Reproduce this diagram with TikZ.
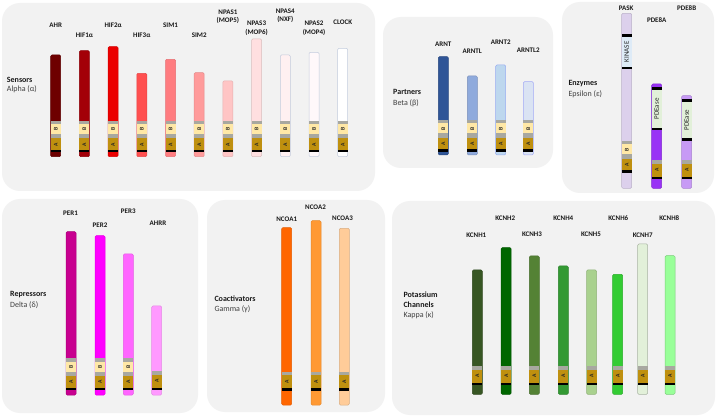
\documentclass[tikz,border=0pt]{standalone}
\usepackage{fontspec}
\setmainfont{Carlito}
\definecolor{panelbg}{HTML}{F2F2F2}
\definecolor{gband}{HTML}{A8A8A0}
\definecolor{bdom}{HTML}{FFE8A6}
\definecolor{adom}{HTML}{BF900F}
\definecolor{lbltext}{HTML}{1A1A1A}
\definecolor{subtext}{HTML}{404040}
\definecolor{lightedge}{HTML}{C3CCDD}
% sensors
\definecolor{cAHR}{HTML}{6E0000}
\definecolor{cHIFa}{HTML}{A30008}
\definecolor{cHIFb}{HTML}{EB0000}
\definecolor{cHIFc}{HTML}{FF5050}
\definecolor{cSIMa}{HTML}{FF7C80}
\definecolor{cSIMb}{HTML}{FF9B9B}
\definecolor{cNPASa}{HTML}{FFC5C5}
\definecolor{cNPASc}{HTML}{FFDFE0}
\definecolor{cNPASd}{HTML}{FFF0F1}
\definecolor{cNPASb}{HTML}{FFF8FA}
\definecolor{cCLOCK}{HTML}{FFFFFF}
% partners
\definecolor{cARNT}{HTML}{2F5597}
\definecolor{cARNTL}{HTML}{8FAADC}
\definecolor{cARNTb}{HTML}{BDD7EE}
\definecolor{cARNTLb}{HTML}{DAE3F3}
% enzymes
\definecolor{cPASK}{HTML}{DCD0EC}
\definecolor{cPDEa}{HTML}{9933F5}
\definecolor{cPDEb}{HTML}{C79AF5}
\definecolor{kinbox}{HTML}{DEEBF7}
\definecolor{pdebox}{HTML}{E2F0D9}
% repressors
\definecolor{cPERa}{HTML}{C80090}
\definecolor{cPERb}{HTML}{FF00FF}
\definecolor{cPERc}{HTML}{FF66FF}
\definecolor{cAHRR}{HTML}{FF99FF}
% coactivators
\definecolor{cNCOAa}{HTML}{FF6600}
\definecolor{cNCOAb}{HTML}{FF9933}
\definecolor{cNCOAc}{HTML}{FFCC99}
% potassium
\definecolor{cKa}{HTML}{375623}
\definecolor{cKb}{HTML}{006600}
\definecolor{cKc}{HTML}{548235}
\definecolor{cKd}{HTML}{339933}
\definecolor{cKe}{HTML}{A9D18E}
\definecolor{cKf}{HTML}{33CC33}
\definecolor{cKg}{HTML}{E2F0D9}
\definecolor{cKh}{HTML}{99FF99}

\newcount\dn
\newcommand\seg[4]{\fill[#4] (#1-5,#2) rectangle (#1+5,#3);}
\newcommand\dom[5]{\seg{#1}{#2}{#3}{#4}\global\advance\dn by 1
  \node[domtxt] (dom\the\dn) at (#1,{(#2+#3)/2}) {#5};}
\newcommand\bigdom[5]{\seg{#1}{#2}{#3}{#4}\global\advance\dn by 1
  \node[bigdomtxt] (dom\the\dn) at (#1,{(#2+#3)/2}) {#5};}
\newcommand\bbody[5]{\filldraw[fill=#4,draw=#5,line width=.5pt,rounded corners=1.2pt] (#1-5,#2) rectangle (#1+5,#3);}
\newcommand\abstack[2]{%
  \seg{#1}{#2}{#2+3.5}{gband}
  \dom{#1}{#2+3.5}{#2+13.5}{bdom}{B}
  \seg{#1}{#2+13.5}{#2+17.8}{gband}
  \dom{#1}{#2+17.8}{#2+29.5}{adom}{A}
  \seg{#1}{#2+29.5}{#2+31.7}{black}}
\newcommand\astack[2]{%
  \seg{#1}{#2}{#2+3.7}{gband}
  \dom{#1}{#2+3.7}{#2+16.7}{adom}{A}
  \seg{#1}{#2+16.7}{#2+19.1}{black}}

\begin{document}
\begin{tikzpicture}[x=1pt,y=-1pt,
  panel/.style={fill=panelbg, rounded corners=18pt},
  lbl/.style={font=\fontsize{7}{8}\selectfont\bfseries, text=lbltext, inner sep=0},
  ttl/.style={font=\fontsize{8}{10}\selectfont\bfseries, text=lbltext, inner sep=0, anchor=west},
  sub/.style={font=\fontsize{8}{10}\selectfont, text=subtext, inner sep=0, anchor=west},
  domtxt/.style={font=\fontsize{5.6}{5.6}\selectfont\bfseries, rotate=90, inner sep=0, text=black!85},
  bigdomtxt/.style={font=\fontsize{7}{7}\selectfont, rotate=90, inner sep=0, text=black!85}]
\useasboundingbox (0,0) rectangle (716,417);
\fill[white] (0,0) rectangle (716,417);

% ---------- panels ----------
\fill[panel] (2,3) rectangle (375,191);
\fill[panel] (383,17) rectangle (553,168);
\fill[panel] (562,2) rectangle (714,193);
\fill[panel] (2,199) rectangle (198,413);
\fill[panel] (207,200) rectangle (385,412);
\fill[panel] (392,201) rectangle (715,415);

% ---------- Sensors ----------
\node[ttl] (tSens) at (6.7,80) {Sensors};
\node[sub] (sSens) at (6.7,89.5) {Alpha (α)};
\bbody{55.7}{55}{156.7}{cAHR}{cAHR!85!black}\abstack{55.7}{120.7}
\bbody{84.4}{50.7}{156.7}{cHIFa}{cHIFa!85!black}\abstack{84.4}{120.7}
\bbody{113.1}{46.7}{156.7}{cHIFb}{cHIFb!90!black}\abstack{113.1}{120.7}
\bbody{141.8}{73.3}{156.7}{cHIFc}{cHIFc!90!black}\abstack{141.8}{120.7}
\bbody{170.5}{59.3}{156.7}{cSIMa}{cSIMa!90!black}\abstack{170.5}{120.7}
\bbody{199.2}{72.7}{156.7}{cSIMb}{cSIMb!90!black}\abstack{199.2}{120.7}
\bbody{227.9}{81}{156.7}{cNPASa}{cNPASa!90!black}\abstack{227.9}{120.7}
\bbody{256.6}{39}{156.7}{cNPASc}{cNPASc!85!black}\abstack{256.6}{120.7}
\bbody{285.3}{55}{156.7}{cNPASd}{lightedge}\abstack{285.3}{120.7}
\bbody{314}{52.3}{156.7}{cNPASb}{lightedge}\abstack{314}{120.7}
\bbody{342.7}{48.3}{156.7}{cCLOCK}{lightedge}\abstack{342.7}{120.7}
\node[lbl] (lAHR) at (55.7,25) {AHR};
\node[lbl] (lHIFa) at (84.4,35) {HIF1α};
\node[lbl] (lHIFb) at (113.1,25) {HIF2α};
\node[lbl] (lHIFc) at (141.8,35) {HIF3α};
\node[lbl] (lSIMa) at (170.5,25) {SIM1};
\node[lbl] (lSIMb) at (199.2,35) {SIM2};
\node[lbl] (lNPASa1) at (227.9,12.3) {NPAS1};
\node[lbl] (lNPASa2) at (227.9,20.5) {(MOP5)};
\node[lbl] (lNPASc1) at (256.6,23.5) {NPAS3};
\node[lbl] (lNPASc2) at (256.6,32.8) {(MOP6)};
\node[lbl] (lNPASd1) at (285.3,11.7) {NPAS4};
\node[lbl] (lNPASd2) at (285.3,19.8) {(NXF)};
\node[lbl] (lNPASb1) at (314,23.5) {NPAS2};
\node[lbl] (lNPASb2) at (314,32.8) {(MOP4)};
\node[lbl] (lCLOCK) at (342.7,22.5) {CLOCK};

% ---------- Partners ----------
\node[ttl] (tPart) at (393,92.3) {Partners};
\node[sub] (sPart) at (393,102.8) {Beta (β)};
\bbody{443.3}{56.7}{155}{cARNT}{cARNT!85!black}\abstack{443.3}{120}
\bbody{472.3}{76}{155}{cARNTL}{cARNTL!85!black}\abstack{472.3}{120}
\bbody{500.7}{65}{155}{cARNTb}{cARNTb!80!blue}\abstack{500.7}{120}
\bbody{528.3}{81.7}{155}{cARNTLb}{cARNTLb!75!blue}\abstack{528.3}{120}
\node[lbl] (lARNT) at (443.3,44.3) {ARNT};
\node[lbl] (lARNTL) at (472.3,51) {ARNTL};
\node[lbl] (lARNTb) at (500.7,42.7) {ARNT2};
\node[lbl] (lARNTLb) at (528.3,50) {ARNTL2};

% ---------- Enzymes ----------
\node[ttl] (tEnz) at (568.3,83.3) {Enzymes};
\node[sub] (sEnz) at (568.3,93.8) {Epsilon (ε)};
\bbody{626.7}{13.3}{188.3}{cPASK}{cPASK!85!black}
\seg{626.7}{34.3}{36.7}{black}
\bigdom{626.7}{36.7}{66.7}{kinbox}{KINASE}
\seg{626.7}{66.7}{69}{black}
\abstack{626.7}{141}
\bbody{656.7}{84}{188.3}{cPDEa}{cPDEa!85!black}
\seg{656.7}{87.3}{90}{black}
\bigdom{656.7}{90}{127.7}{pdebox}{PDEase}
\seg{656.7}{127.7}{130}{black}
\astack{656.7}{160}
\bbody{686.7}{95.7}{188.3}{cPDEb}{cPDEb!85!black}
\seg{686.7}{99}{101.7}{black}
\bigdom{686.7}{101.7}{138.3}{pdebox}{PDEase}
\seg{686.7}{138.3}{140.7}{black}
\astack{686.7}{160}
\node[lbl] (lPASK) at (626.2,8.3) {PASK};
\node[lbl] (lPDEa) at (656.7,20) {PDE8A};
\node[lbl] (lPDEb) at (686.7,8.3) {PDE8B};

% ---------- Repressors ----------
\node[ttl] (tRep) at (10,295) {Repressors};
\node[sub] (sRep) at (10,305.5) {Delta (δ)};
\bbody{71}{231.7}{395}{cPERa}{cPERa!85!black}\abstack{71}{358.3}
\bbody{100}{235.7}{395}{cPERb}{cPERb!90!black}\abstack{100}{358.3}
\bbody{128.3}{254}{395}{cPERc}{cPERc!90!black}\abstack{128.3}{358.3}
\bbody{156.7}{306}{395}{cAHRR}{cAHRR!90!black}\astack{156.7}{371}
\node[lbl] (lPERa) at (70.5,213.3) {PER1};
\node[lbl] (lPERb) at (100,225) {PER2};
\node[lbl] (lPERc) at (128.3,211.7) {PER3};
\node[lbl] (lAHRR) at (158,223.3) {AHRR};

% ---------- Coactivators ----------
\node[ttl] (tCoa) at (214.3,299) {Coactivators};
\node[sub] (sCoa) at (214.3,309) {Gamma (γ)};
\bbody{286.7}{227.7}{405}{cNCOAa}{cNCOAa!90!black}\astack{286.7}{371.7}
\bbody{316}{220.7}{405}{cNCOAb}{cNCOAb!90!black}\astack{316}{371.7}
\bbody{344.3}{228.3}{405}{cNCOAc}{cNCOAc!85!black}\astack{344.3}{371.7}
\node[lbl] (lNCOAa) at (286.7,219) {NCOA1};
\node[lbl] (lNCOAb) at (315.5,207.3) {NCOA2};
\node[lbl] (lNCOAc) at (342.5,218.3) {NCOA3};

% ---------- Potassium channels ----------
\node[ttl] (tPot1) at (403.3,295) {Potassium};
\node[ttl] (tPot2) at (403.3,305.2) {Channels};
\node[sub] (sPot) at (403.3,315.5) {Kappa (κ)};
\bbody{477.3}{270}{394.3}{cKa}{cKa!85!black}\astack{477.3}{366}
\bbody{506.2}{247.7}{394.3}{cKb}{cKb!85!black}\astack{506.2}{366}
\bbody{534.3}{256}{394.3}{cKc}{cKc!85!black}\astack{534.3}{366}
\bbody{563.3}{266}{394.3}{cKd}{cKd!85!black}\astack{563.3}{366}
\bbody{591.5}{270}{394.3}{cKe}{cKe!85!black}\astack{591.5}{366}
\bbody{617.7}{274.3}{394.3}{cKf}{cKf!85!black}\astack{617.7}{366}
\bbody{642.7}{244}{394.3}{cKg}{cKg!75!black}\astack{642.7}{366}
\bbody{670}{255.7}{394.3}{cKh}{cKh!80!black}\astack{670}{366}
\node[lbl] (lKa) at (476.3,235) {KCNH1};
\node[lbl] (lKb) at (505.2,218.3) {KCNH2};
\node[lbl] (lKc) at (532,234) {KCNH3};
\node[lbl] (lKd) at (563.3,218.3) {KCNH4};
\node[lbl] (lKe) at (591,234) {KCNH5};
\node[lbl] (lKf) at (618.3,218.3) {KCNH6};
\node[lbl] (lKg) at (642.7,235) {KCNH7};
\node[lbl] (lKh) at (669.3,218.3) {KCNH8};
\end{tikzpicture}
\end{document}
